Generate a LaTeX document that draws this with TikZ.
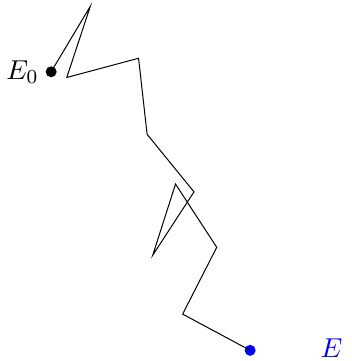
\documentclass[tikz,border=0pt,11pt]{standalone}
\usetikzlibrary{positioning}
\tikzset{
  dot/.style={circle, fill, inner sep=0pt, minimum size=4.4pt},
}
\begin{document}
\begin{tikzpicture}
	\useasboundingbox (0,0) rectangle (4.95,5.08);
	% --- 起点与终点 ---
	\node[dot] (E0) at (0.72,4.07) {};
	\node[left=1.5pt of E0, inner sep=1pt] (E0lab) {$E_0$};
	\node[dot, blue] (E) at (3.52,0.15) {};
	\node[blue, inner sep=0pt, right=0.9cm of E, yshift=1pt] (Elab) {$E$};
	% --- 折线上的各点 ---
	\coordinate (p1) at (1.27,4.99);
	\coordinate (p2) at (0.94,3.99);
	\coordinate (p3) at (1.95,4.26);
	\coordinate (p4) at (2.07,3.19);
	\coordinate (p5) at (2.73,2.38);
	\coordinate (p6) at (2.15,1.49);
	\coordinate (p7) at (2.47,2.49);
	\coordinate (p8) at (3.05,1.60);
	\coordinate (p9) at (2.57,0.66);
	% 路径
	\draw (E0.center) -- (p1) -- (p2) -- (p3) -- (p4) -- (p5) -- (p6)
		-- (p7) -- (p8) -- (p9) -- (E.center);
\end{tikzpicture}
\end{document}
